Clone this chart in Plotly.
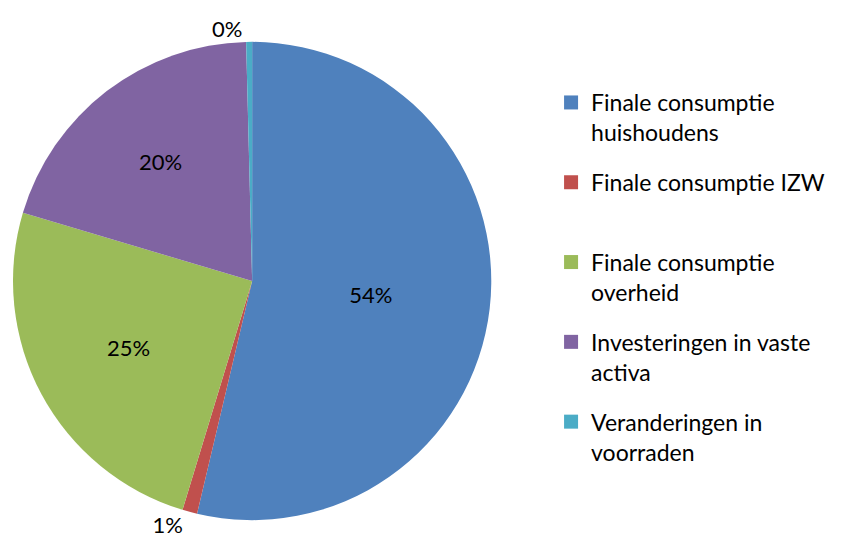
import plotly.graph_objects as go

# --- Data ---
categories = [
    "Finale consumptie huishoudens",
    "Finale consumptie IZW",
    "Finale consumptie overheid",
    "Investeringen in vaste activa",
    "Veranderingen in voorraden",
]
legend_labels = [
    "Finale consumptie<br>huishoudens",
    "Finale consumptie IZW<br> ",
    "Finale consumptie<br>overheid",
    "Investeringen in vaste<br>activa",
    "Veranderingen in<br>voorraden",
]
shares = [53.7, 1.0, 24.9, 20.0, 0.4]
colors = ["#4F81BD", "#C0504D", "#9BBB59", "#8064A2", "#4BACC6"]
text_positions = ["inside", "outside", "inside", "inside", "outside"]

W, H = 841, 547

fig = go.Figure(go.Pie(
    labels=categories,
    values=shares,
    sort=False,
    direction="clockwise",
    rotation=0,
    marker=dict(colors=colors),
    texttemplate="%{percent:.0%}",
    textposition=text_positions,
    insidetextorientation="horizontal",
    textfont=dict(color="black", size=22),
    domain=dict(x=[2 / W, 482 / W], y=[1 - 513 / H, 1 - 33 / H]),
    showlegend=False,
))

# legend entries (one per slice, so the gap between them can be set)
for i, (lab, col) in enumerate(zip(legend_labels, colors)):
    fig.add_trace(go.Scatter(
        x=[None], y=[None], mode="markers", name=lab,
        marker=dict(symbol="square", size=14, color=col),
        legendgroup=f"g{i}", showlegend=True,
    ))

fig.update_xaxes(visible=False)
fig.update_yaxes(visible=False)

fig.update_layout(
    width=W, height=H,
    margin=dict(l=0, r=0, t=0, b=0),
    paper_bgcolor="white",
    plot_bgcolor="white",
    font=dict(family="Lato, 'Open Sans', sans-serif", color="black", size=22),
    legend=dict(x=542 / W, y=1 - 73 / H, xanchor="left", yanchor="top",
                valign="top", font=dict(size=23), tracegroupgap=17,
                itemsizing="trace"),
)

fig.write_html("out.html")
